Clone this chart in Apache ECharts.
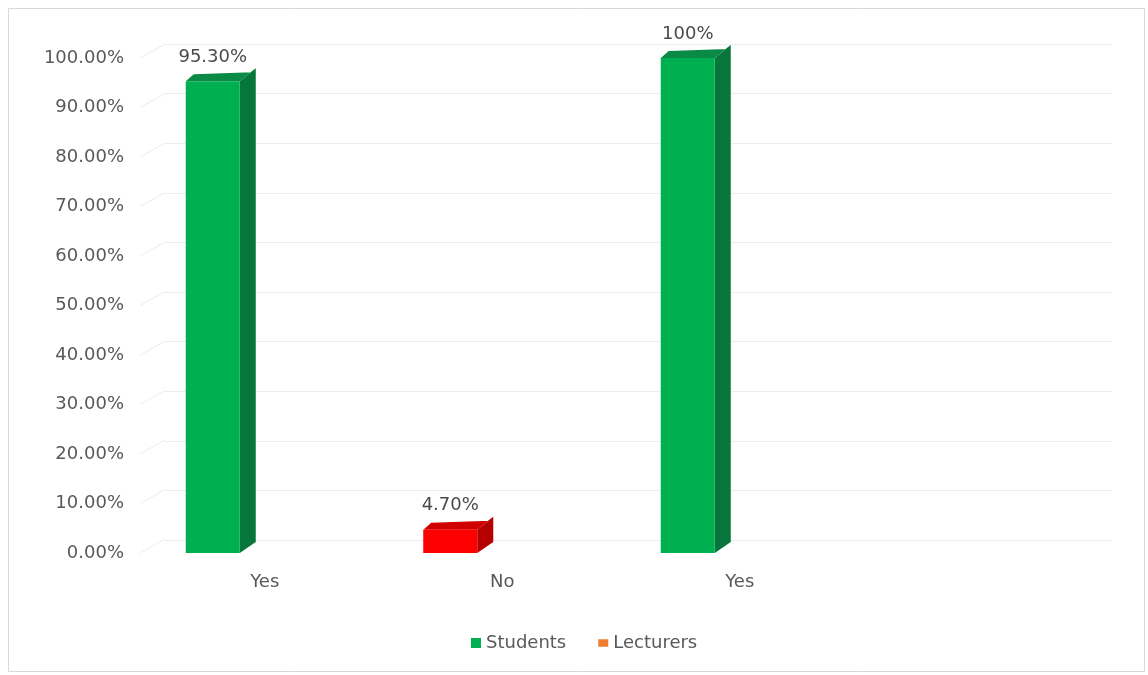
<!DOCTYPE html>
<html>
<head>
<meta charset="utf-8">
<script src="https://cdn.jsdelivr.net/npm/echarts@6/dist/echarts.min.js"></script>
<style>
  html, body { margin: 0; padding: 0; background: #ffffff; }
  #chart { width: 1148px; height: 675px; }
</style>
</head>
<body>
<div id="chart"></div>
<script>
// Response categories along the floor of the chart
const categories = ['Yes', 'No', 'Yes', ''];
// Share of respondents (percent) for each column
const studentValues = [95.3, 4.7, 100, null];
// Printed value labels above each column
const valueLabels = ['95.30%', '4.70%', '100%', ''];
// Lecturers series has no drawn columns, only its legend entry
const lecturerValues = [null, null, null, null];
// Value axis tick marks (percent)
const gridValues = [0, 10, 20, 30, 40, 50, 60, 70, 80, 90, 100];

// Face shades for the pseudo-3D columns
const tones = {
  green: { front: '#00b050', side: '#06763a', top: '#0a8a44' },
  red:   { front: '#ff0000', side: '#b50000', top: '#d00000' }
};
const columnTone = ['green', 'red', 'green', null];

const FONT = 'DejaVu Sans';
const TEXT = '#595959';

const chart = echarts.init(document.getElementById('chart'), null, { renderer: 'canvas' });

function renderColumn(params, api) {
  const idx = api.value(0);
  const val = api.value(1);
  if (val == null || isNaN(val) || !columnTone[idx]) return;
  const tone = tones[columnTone[idx]];
  const top = api.coord([idx, val]);
  const base = api.coord([idx, 0]);
  const cx = top[0] - 52;          // perspective shift of the column relative to its label
  const half = 27;
  const x0 = cx - half, x1 = cx + half;
  const yT = top[1], yB = base[1];
  const dx = 16, dy = 13;          // depth of the column
  return {
    type: 'group',
    children: [
      { type: 'polygon', shape: { points: [[x1, yT], [x1 + dx, yT - dy], [x1 + dx, yB - dy + 2], [x1, yB]] },
        style: { fill: tone.side } },
      { type: 'polygon', shape: { points: [[x0, yT], [x1, yT], [x1 + dx, yT - dy], [x1 + dx - 4, yT - dy + 4], [x0 + 8, yT - 7]] },
        style: { fill: tone.top } },
      { type: 'rect', shape: { x: x0, y: yT, width: x1 - x0, height: yB - yT },
        style: { fill: tone.front } },
      { type: 'text', x: cx, y: yT - 24,
        style: { text: valueLabels[idx], fill: '#4a4a4a', font: '18px "' + FONT + '"',
                 align: 'center', verticalAlign: 'middle' } }
    ]
  };
}

function renderSideWall(params, api) {
  const v = api.value(1);
  const p = api.coord([0, v]);
  const left = params.coordSys.x;
  return {
    type: 'line',
    shape: { x1: left - 6, y1: p[1], x2: left + 19, y2: p[1] - 14 },
    style: { stroke: '#ececec', lineWidth: 1 }
  };
}

const option = {
  backgroundColor: '#ffffff',
  animation: false,
  graphic: [
    { type: 'rect', z: -10, shape: { x: 8.5, y: 8.5, width: 1136, height: 663 },
      style: { fill: 'none', stroke: '#d9d9d9', lineWidth: 1 } }
  ],
  grid: [
    // front plane: columns, labels
    { left: 146, right: 52, top: 58, bottom: 122 },
    // back wall: gridlines
    { left: 165, right: 36, top: 44, bottom: 135 }
  ],
  xAxis: [
    { type: 'category', gridIndex: 0, data: categories,
      axisLine: { show: false }, axisTick: { show: false },
      axisLabel: { color: TEXT, fontFamily: FONT, fontSize: 18, margin: 20 } },
    { type: 'value', gridIndex: 1, show: false, min: 0, max: 1 }
  ],
  yAxis: [
    { type: 'value', gridIndex: 0, min: 0, max: 100, interval: 10,
      axisLine: { show: false }, axisTick: { show: false }, splitLine: { show: false },
      axisLabel: { color: TEXT, fontFamily: FONT, fontSize: 18, margin: 22,
                   formatter: v => v.toFixed(2) + '%' } },
    { type: 'value', gridIndex: 1, min: 0, max: 100, interval: 10,
      axisLine: { show: false }, axisTick: { show: false }, axisLabel: { show: false },
      splitLine: { show: true, lineStyle: { color: '#ececec', width: 1 } } }
  ],
  legend: {
    data: [
      { name: 'Students', icon: 'rect' },
      { name: 'Lecturers', icon: 'path://M0,0h8v6h-8z' }
    ],
    left: 466, top: 629,
    itemWidth: 10, itemHeight: 10, itemGap: 32,
    textStyle: { color: TEXT, fontFamily: FONT, fontSize: 18 }
  },
  series: [
    { name: 'wall', type: 'custom', xAxisIndex: 0, yAxisIndex: 0, silent: true, z: 1,
      data: gridValues.map(v => [0, v]), renderItem: renderSideWall },
    { name: 'Students', type: 'custom', xAxisIndex: 0, yAxisIndex: 0, z: 5,
      itemStyle: { color: '#00b050' },
      data: categories.map((c, i) => [i, studentValues[i]]),
      renderItem: renderColumn },
    { name: 'Lecturers', type: 'bar', xAxisIndex: 0, yAxisIndex: 0,
      itemStyle: { color: '#ed7d31' }, data: lecturerValues }
  ]
};

chart.setOption(option);
</script>
</body>
</html>
